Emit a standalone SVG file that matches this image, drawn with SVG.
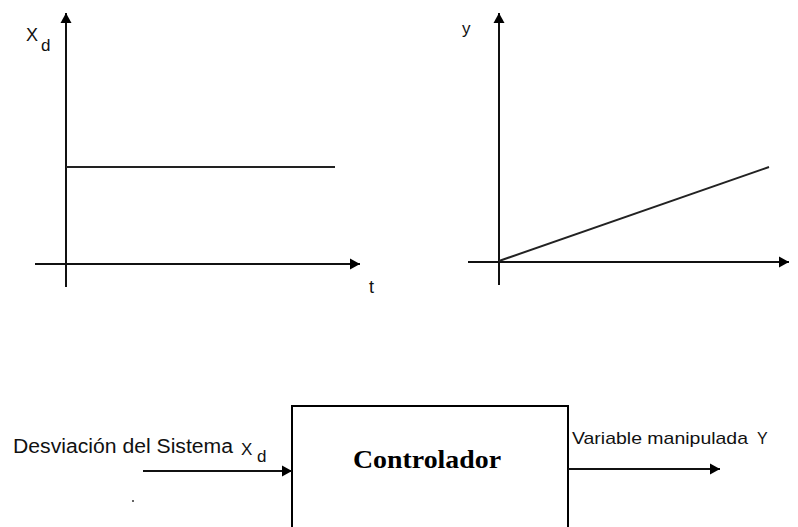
<svg xmlns="http://www.w3.org/2000/svg" width="798" height="527" viewBox="0 0 798 527">
<defs>
<marker id="ah" markerUnits="userSpaceOnUse" markerWidth="11" markerHeight="13" refX="10" refY="6.5" orient="auto">
<path d="M0,1 L10,6.5 L0,12 Z" fill="#000"/>
</marker>
<style>
.ax{stroke:#111;stroke-width:2;fill:none}
.ln{stroke:#222;stroke-width:2;fill:none}
.t{font-family:"Liberation Sans",Arial,sans-serif;fill:#111}
.b{font-family:"Liberation Serif","Times New Roman",serif;font-weight:bold;fill:#000}
</style>
</defs>
<rect width="798" height="527" fill="#fff"/>
<g id="graph-xd">
<line class="ax" x1="66" y1="287" x2="66" y2="13" marker-end="url(#ah)"/>
<line class="ax" x1="35" y1="264" x2="360" y2="264" marker-end="url(#ah)"/>
<line class="ln" x1="66" y1="167" x2="335" y2="167"/>
<text class="t" x="26" y="41" font-size="18">X</text>
<text class="t" x="41" y="51" font-size="17">d</text>
<text class="t" x="369" y="293" font-size="18">t</text>
</g>
<g id="graph-y">
<line class="ax" x1="499" y1="285" x2="499" y2="13" marker-end="url(#ah)"/>
<line class="ax" x1="468" y1="262" x2="789" y2="262" marker-end="url(#ah)"/>
<line class="ln" x1="499" y1="261" x2="769" y2="167"/>
<text class="t" x="462" y="34" font-size="17">y</text>
</g>
<g id="controlador">
<rect x="292" y="406" width="276" height="160" fill="#fff" stroke="#000" stroke-width="2"/>
<text class="b" x="353" y="468" font-size="25" textLength="148" lengthAdjust="spacingAndGlyphs">Controlador</text>
</g>
<g id="labels">
<text class="t" x="13" y="453" font-size="20" textLength="220" lengthAdjust="spacingAndGlyphs">Desviación del Sistema</text>
<text class="t" x="241" y="455" font-size="17">X</text>
<text class="t" x="257" y="462" font-size="17">d</text>
<text class="t" x="572" y="444" font-size="17" textLength="176" lengthAdjust="spacingAndGlyphs">Variable manipulada</text>
<text class="t" x="757" y="444" font-size="16">Y</text>
<circle cx="133" cy="501" r="1" fill="#333"/>
</g>
<g id="connectors">
<line class="ax" x1="143" y1="471" x2="292" y2="471" marker-end="url(#ah)"/>
<line class="ax" x1="568" y1="469" x2="720" y2="469" marker-end="url(#ah)"/>
</g>
</svg>
